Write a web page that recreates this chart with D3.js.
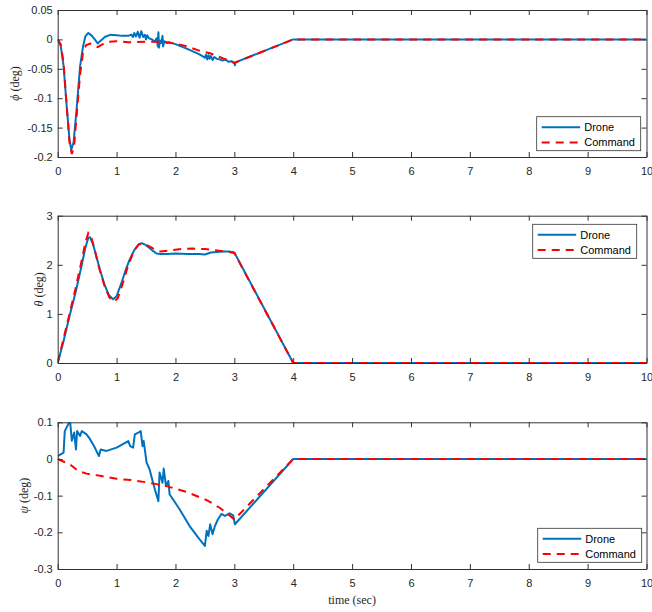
<!DOCTYPE html>
<html><head><meta charset="utf-8">
<script src="https://cdn.jsdelivr.net/npm/d3@7"></script>
<style>body{margin:0;background:#fff}svg{display:block}</style>
</head><body>
<svg id="c" width="652" height="612"></svg>
<script>
// ---- data ----
const phiDrone = [[0,0],[0.05,-0.01],[0.1,-0.045],[0.15,-0.11],[0.2,-0.17],[0.23,-0.188],[0.27,-0.175],[0.32,-0.12],[0.38,-0.046],[0.43,-0.012],[0.47,0.005],[0.52,0.011],[0.58,0.006],[0.63,0.0],[0.68,-0.007],[0.72,-0.003],[0.8,0.004],[0.9,0.008],[1.0,0.007],[1.1,0.006],[1.2,0.006],[1.25,0.008],[1.28,0.004],[1.3,0.011],[1.33,0.005],[1.36,0.013],[1.39,0.003],[1.42,0.014],[1.45,0.004],[1.48,0.008],[1.5,0.0],[1.52,0.007],[1.55,0.002],[1.6,0.0],[1.65,-0.004],[1.68,0.002],[1.7,-0.012],[1.71,0.012],[1.72,-0.014],[1.74,-0.002],[1.76,-0.006],[1.78,0.006],[1.79,-0.012],[1.81,-0.003],[1.85,-0.006],[1.9,-0.005],[2.0,-0.008],[2.2,-0.016],[2.4,-0.025],[2.5,-0.031],[2.52,-0.026],[2.54,-0.034],[2.56,-0.027],[2.58,-0.033],[2.6,-0.028],[2.63,-0.035],[2.66,-0.03],[2.7,-0.033],[2.75,-0.034],[2.8,-0.036],[2.85,-0.034],[2.9,-0.038],[2.95,-0.037],[3.0,-0.04],[3.01,-0.044],[3.02,-0.039],[4,0],[10,0]];
const phiCmd = [[0,0],[0.05,-0.008],[0.1,-0.04],[0.15,-0.11],[0.2,-0.175],[0.24,-0.195],[0.28,-0.18],[0.33,-0.12],[0.38,-0.06],[0.43,-0.022],[0.48,-0.01],[0.55,-0.007],[0.62,-0.01],[0.68,-0.013],[0.75,-0.009],[0.85,-0.004],[1.0,-0.003],[1.2,-0.005],[1.5,-0.004],[1.8,-0.004],[2.0,-0.007],[2.2,-0.012],[2.4,-0.019],[2.6,-0.024],[2.8,-0.032],[3.0,-0.04],[4,0],[10,0]];
const thetaDrone = [[0,0],[0.1,0.45],[0.2,0.95],[0.3,1.42],[0.4,1.95],[0.47,2.35],[0.52,2.55],[0.55,2.56],[0.6,2.42],[0.65,2.2],[0.72,1.89],[0.8,1.58],[0.87,1.38],[0.94,1.30],[1.0,1.36],[1.08,1.62],[1.15,1.88],[1.22,2.1],[1.3,2.3],[1.38,2.42],[1.43,2.44],[1.5,2.4],[1.6,2.3],[1.68,2.23],[1.75,2.22],[1.85,2.22],[2.0,2.23],[2.2,2.22],[2.4,2.22],[2.5,2.21],[2.6,2.25],[2.7,2.26],[2.8,2.27],[2.9,2.27],[3.0,2.25],[4,0],[10,0]];
const thetaCmd = [[0,0],[0.1,0.5],[0.2,1.0],[0.3,1.5],[0.4,2.05],[0.47,2.45],[0.52,2.65],[0.56,2.6],[0.62,2.35],[0.7,1.95],[0.8,1.55],[0.88,1.33],[0.96,1.25],[1.02,1.32],[1.1,1.6],[1.2,2.0],[1.3,2.3],[1.38,2.42],[1.45,2.43],[1.55,2.38],[1.65,2.31],[1.75,2.27],[1.9,2.29],[2.1,2.32],[2.3,2.33],[2.5,2.32],[2.7,2.29],[2.9,2.26],[3.0,2.24],[4,0],[10,0]];
const psiDrone = [[0,0.008],[0.1,0.017],[0.12,0.076],[0.18,0.095],[0.21,0.104],[0.24,0.05],[0.28,0.072],[0.31,0.026],[0.33,0.076],[0.38,0.063],[0.41,0.076],[0.49,0.067],[0.55,0.054],[0.63,0.031],[0.70,0.008],[0.73,0.026],[0.83,0.022],[1.0,0.031],[1.2,0.049],[1.23,0.035],[1.28,0.031],[1.31,0.067],[1.37,0.072],[1.41,0.076],[1.44,0.035],[1.46,0.049],[1.51,-0.01],[1.56,-0.028],[1.65,-0.083],[1.71,-0.115],[1.73,-0.037],[1.78,-0.065],[1.80,-0.026],[1.84,-0.074],[1.88,-0.06],[1.90,-0.096],[2.07,-0.137],[2.24,-0.183],[2.41,-0.219],[2.50,-0.237],[2.53,-0.196],[2.56,-0.21],[2.59,-0.178],[2.63,-0.205],[2.67,-0.183],[2.72,-0.165],[2.78,-0.15],[2.84,-0.155],[2.92,-0.148],[2.98,-0.154],[3.01,-0.178],[4,0],[10,0]];
const psiCmd = [[0,0],[0.21,-0.015],[0.35,-0.033],[0.49,-0.04],[0.72,-0.046],[1.0,-0.054],[1.28,-0.058],[1.56,-0.065],[1.85,-0.074],[2.19,-0.09],[2.53,-0.112],[2.75,-0.133],[2.92,-0.154],[3.0,-0.165],[4,0],[10,0]];
const xTicks = [0,1,2,3,4,5,6,7,8,9,10];
const phiTicks = [-0.2,-0.15,-0.1,-0.05,0,0.05];
const phiTickLabels = ["-0.2","-0.15","-0.1","-0.05","0","0.05"];
const thetaTicks = [0,1,2,3];
const thetaTickLabels = ["0","1","2","3"];
const psiTicks = [-0.3,-0.2,-0.1,0,0.1];
const psiTickLabels = ["-0.3","-0.2","-0.1","0","0.1"];
const seriesNames = ["Drone","Command"];

// ---- drawing ----
const svg = d3.select("#c");
const X0 = 57.7, X1 = 646.5;
const x = d3.scaleLinear().domain([0,10]).range([X0,X1]);
const blue = "#0072BD", red = "#FF0000";
const axisCol = "#333333", textCol = "#262626";

const panels = [
  {top:10, bot:157, dom:[-0.2,0.05], ticks:phiTicks, labels:phiTickLabels, drone:phiDrone, cmd:phiCmd, sym:"ϕ", labX:19, leg:{x:536.7,y:116.7}},
  {top:215.7, bot:363, dom:[0,3], ticks:thetaTicks, labels:thetaTickLabels, drone:thetaDrone, cmd:thetaCmd, sym:"θ", labX:43, leg:{x:532.7,y:224.3}},
  {top:422.3, bot:569, dom:[-0.3,0.1], ticks:psiTicks, labels:psiTickLabels, drone:psiDrone, cmd:psiCmd, sym:"ψ", labX:28, leg:{x:537.7,y:528.3}}
];

panels.forEach((p,i)=>{
  const y = d3.scaleLinear().domain(p.dom).range([p.bot,p.top]);
  const g = svg.append("g");
  const cid = "clip"+i;
  svg.append("clipPath").attr("id",cid).append("rect")
    .attr("x",X0).attr("y",p.top).attr("width",X1-X0).attr("height",p.bot-p.top);

  const line = d3.line().x(d=>x(d[0])).y(d=>y(d[1]));
  const lg = g.append("g").attr("clip-path",`url(#${cid})`);
  lg.append("path").datum(p.drone).attr("d",line).attr("fill","none")
    .attr("stroke",blue).attr("stroke-width",2).attr("stroke-linejoin","round");
  lg.append("path").datum(p.cmd).attr("d",line).attr("fill","none")
    .attr("stroke",red).attr("stroke-width",2).attr("stroke-dasharray","8,6");

  const styleAxis = (sel, showText)=>{
    sel.selectAll("path.domain").attr("stroke",axisCol).attr("stroke-width",1);
    sel.selectAll(".tick line").attr("stroke",axisCol).attr("stroke-width",1);
    sel.selectAll(".tick text").attr("fill",textCol).style("font-family","'Liberation Sans', Arial, sans-serif").style("font-size","11px");
    if(!showText) sel.selectAll(".tick text").remove();
  };
  const ab = g.append("g").attr("transform",`translate(0,${p.bot})`)
    .call(d3.axisBottom(x).tickValues(xTicks).tickSizeInner(-5).tickSizeOuter(0).tickPadding(10).tickFormat(d3.format("d")));
  styleAxis(ab,true);
  const at = g.append("g").attr("transform",`translate(0,${p.top})`)
    .call(d3.axisTop(x).tickValues(xTicks).tickSizeInner(-5).tickSizeOuter(0));
  styleAxis(at,false);
  const al = g.append("g").attr("transform",`translate(${X0},0)`)
    .call(d3.axisLeft(y).tickValues(p.ticks).tickSizeInner(-5).tickSizeOuter(0).tickPadding(5).tickFormat((d,k)=>p.labels[k]));
  styleAxis(al,true);
  const ar = g.append("g").attr("transform",`translate(${X1},0)`)
    .call(d3.axisRight(y).tickValues(p.ticks).tickSizeInner(-5).tickSizeOuter(0));
  styleAxis(ar,false);

  // y label
  const yl = g.append("text").attr("transform",`translate(${p.labX},${(p.top+p.bot)/2}) rotate(-90)`)
    .attr("text-anchor","middle").attr("fill",textCol)
    .style("font-family","'Liberation Serif', 'Times New Roman', serif").style("font-size","12px");
  yl.append("tspan").style("font-style","italic").text(p.sym);
  yl.append("tspan").text(" (deg)");

  // legend
  const L = g.append("g").attr("transform",`translate(${p.leg.x},${p.leg.y})`);
  L.append("rect").attr("width",104).attr("height",34).attr("fill","#fff").attr("stroke",axisCol).attr("stroke-width",0.8);
  seriesNames.forEach((n,k)=>{
    const yy = 10.5 + k*15.2;
    L.append("line").attr("x1",5).attr("x2",43.5).attr("y1",yy).attr("y2",yy)
      .attr("stroke",k===0?blue:red).attr("stroke-width",2).attr("stroke-dasharray",k===0?null:"8,6");
    L.append("text").attr("x",47.5).attr("y",yy+4).attr("fill","#000")
      .style("font-family","'Liberation Sans', Arial, sans-serif").style("font-size","11px").text(n);
  });
});

svg.append("text").attr("x",(X0+X1)/2).attr("y",604).attr("text-anchor","middle").attr("fill",textCol)
  .style("font-family","'Liberation Serif', 'Times New Roman', serif").style("font-size","12px").text("time (sec)");
</script>
</body></html>
